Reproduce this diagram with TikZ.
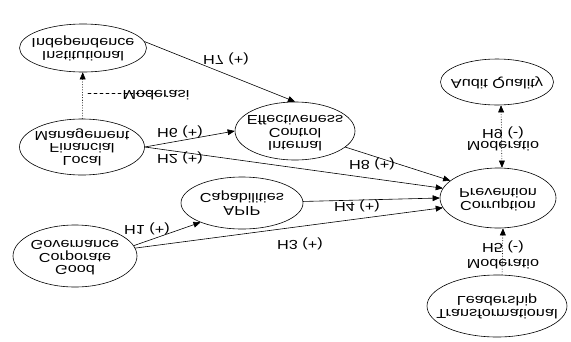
\documentclass[tikz,border=0pt]{standalone}
\usepackage{fontspec}
\setmainfont{Liberation Sans}
\usepackage{graphicx}
\usetikzlibrary{arrows,shapes.geometric}

% mirrored text, as the picture prints it
\newcommand{\flipped}[1]{\makebox[0pt]{\scalebox{1.25}[-1]{\begin{tabular}{@{}c@{}}#1\end{tabular}}}}

\tikzset{
  construct/.style={draw,ellipse,inner sep=0pt,font=\fontsize{13}{12}\selectfont},
  hyplabel/.style={inner sep=1pt,font=\fontsize{13}{12}\selectfont},
}

\begin{document}
\begin{tikzpicture}[line cap=round,line join=round,>=triangle 45,x=1pt,y=-1pt,line width=0.6pt]
      \useasboundingbox (0,0) rectangle (571,341);

      % Constructs
      \node[construct,minimum width=127pt,minimum height=48pt] (inst) at (83,48) {\flipped{Institutional\\Independence}};
      \node[construct,minimum width=125pt,minimum height=56pt] (local) at (82,147) {\flipped{Local\\Financial\\Management}};
      \node[construct,minimum width=124pt,minimum height=62pt] (gcg) at (75,256) {\flipped{Good\\Corporate\\Governance}};
      \node[construct,minimum width=120pt,minimum height=58pt] (ctrl) at (295,131) {\flipped{Internal\\Control\\Effectiveness}};
      \node[construct,minimum width=122pt,minimum height=52pt] (apip) at (242,203) {\flipped{APIP\\Capabilities}};
      \node[construct,minimum width=113pt,minimum height=46pt] (audit) at (497,82) {\flipped{Audit Quality}};
      \node[construct,minimum width=116pt,minimum height=60pt] (corr) at (498,198) {\flipped{Corruption\\Prevention}};
      \node[construct,minimum width=140pt,minimum height=62pt] (trans) at (497,306) {\flipped{Transformational\\Leadership}};

      % Hypotheses
      \draw[->] (inst.6) -- (ctrl.north);
      \draw[->] (local.east) -- (ctrl.west);
      \draw[->] (local.east) -- (corr.170);
      \draw[->] (ctrl) -- (corr.160);
      \draw[->] (apip) -- (corr.west);
      \draw[->] (gcg.10) -- (apip.205);
      \draw[->] (gcg) -- (corr.190);

      \node[hyplabel] (h7) at (226,58) {\flipped{H7 (+)}};
      \node[hyplabel] (h6) at (180,131) {\flipped{H6 (+)}};
      \node[hyplabel] (h2) at (180,157) {\flipped{H2 (+)}};
      \node[hyplabel] (h8) at (372,163) {\flipped{H8 (+)}};
      \node[hyplabel] (h4) at (357,205) {\flipped{H4 (+)}};
      \node[hyplabel] (h1) at (147,228) {\flipped{H1 (+)}};
      \node[hyplabel] (h3) at (300,243) {\flipped{H3 (+)}};

      % Moderation
      \draw[dotted,->] (local) -- (inst);
      \coordinate (mdot) at (88,93);
      \node[hyplabel] (moda) at (156,93) {\flipped{Moderasi}};
      \draw[dashed] (mdot) -- (moda.west);

      \draw[dotted,<->] ([xshift=4]audit.south) -- ([xshift=4]corr.north);
      \node[hyplabel] (h9) at (503,132) {\flipped{H9 (-)}};
      \node[hyplabel] (modb) at (503,144) {\flipped{Moderatio}};

      \draw[dotted,->] ([xshift=5]trans.north) -- ([xshift=5]corr.south);
      \node[hyplabel] (h5) at (503,246) {\flipped{H5 (-)}};
      \node[hyplabel] (modc) at (503,262) {\flipped{Moderatio}};
\end{tikzpicture}
\end{document}
